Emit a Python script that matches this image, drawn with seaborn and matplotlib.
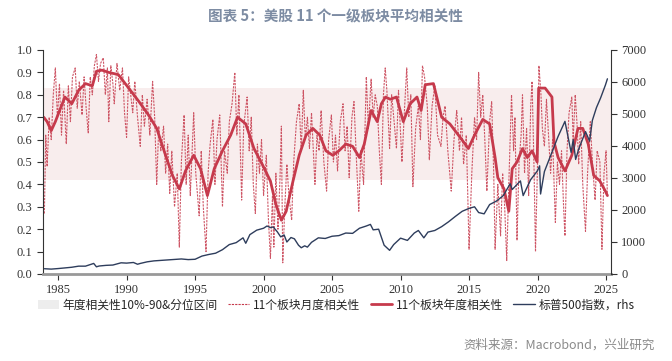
import numpy as np
import pandas as pd
import matplotlib
matplotlib.use("Agg")
import matplotlib.pyplot as plt
import seaborn as sns
from matplotlib.lines import Line2D
from matplotlib.patches import Patch

# 11-sector monthly average correlation (dashed)
monthly_years = [
    1984.0, 1984.1, 1984.2, 1984.35, 1984.5, 1984.65, 1984.8, 1984.95, 1985.1, 1985.25,
    1985.4, 1985.6, 1985.75, 1985.9, 1986.05, 1986.25, 1986.4, 1986.55, 1986.75, 1986.9,
    1987.05, 1987.2, 1987.35, 1987.5, 1987.65, 1987.8, 1987.95, 1988.1, 1988.3, 1988.45,
    1988.6, 1988.7, 1988.85, 1989.0, 1989.1, 1989.3, 1989.5, 1989.7, 1989.85, 1990.0,
    1990.15, 1990.3, 1990.45, 1990.6, 1990.8, 1991.0, 1991.15, 1991.3, 1991.5, 1991.7,
    1991.9, 1992.05, 1992.2, 1992.35, 1992.5, 1992.7, 1992.85, 1993.0, 1993.15, 1993.3,
    1993.5, 1993.7, 1993.85, 1994.0, 1994.2, 1994.35, 1994.5, 1994.65, 1994.9, 1995.05,
    1995.3, 1995.45, 1995.6, 1995.8, 1995.95, 1996.1, 1996.3, 1996.45, 1996.6, 1996.8,
    1997.0, 1997.15, 1997.35, 1997.5, 1997.7, 1997.9, 1998.05, 1998.2, 1998.4, 1998.55,
    1998.8, 1998.95, 1999.1, 1999.25, 1999.4, 1999.55, 1999.7, 1999.85, 2000.0, 2000.2,
    2000.35, 2000.5, 2000.65, 2000.75, 2000.9, 2001.05, 2001.2, 2001.3, 2001.4, 2001.55,
    2001.7, 2001.85, 2002.05, 2002.2, 2002.4, 2002.6, 2002.75, 2002.9, 2003.05, 2003.2,
    2003.35, 2003.5, 2003.75, 2003.9, 2004.05, 2004.2, 2004.4, 2004.6, 2004.75, 2004.95,
    2005.1, 2005.25, 2005.4, 2005.6, 2005.8, 2005.95, 2006.1, 2006.25, 2006.45, 2006.6,
    2006.75, 2006.95, 2007.1, 2007.3, 2007.5, 2007.65, 2007.85, 2008.0, 2008.15, 2008.3,
    2008.45, 2008.6, 2008.75, 2008.88, 2009.0, 2009.2, 2009.35, 2009.5, 2009.7, 2009.85,
    2010.1, 2010.3, 2010.45, 2010.6, 2010.75, 2010.9, 2011.1, 2011.3, 2011.45, 2011.6,
    2011.75, 2011.95, 2012.1, 2012.3, 2012.5, 2012.7, 2012.95, 2013.1, 2013.25, 2013.45,
    2013.7, 2013.9, 2014.1, 2014.3, 2014.45, 2014.6, 2014.8, 2015.0, 2015.2, 2015.4,
    2015.55, 2015.7, 2015.85, 2016.0, 2016.15, 2016.3, 2016.5, 2016.65, 2016.8, 2016.9,
    2017.1, 2017.3, 2017.45, 2017.6, 2017.75, 2017.9, 2018.1, 2018.25, 2018.35, 2018.5,
    2018.65, 2018.8, 2018.9, 2019.05, 2019.2, 2019.35, 2019.5, 2019.6, 2019.75, 2019.85,
    2020.0, 2020.1, 2020.25, 2020.35, 2020.5, 2020.65, 2020.8, 2020.95, 2021.1, 2021.3,
    2021.45, 2021.6, 2021.75, 2021.9, 2022.0, 2022.15, 2022.3, 2022.5, 2022.6, 2022.75,
    2022.9, 2023.0, 2023.15, 2023.3, 2023.5, 2023.65, 2023.85, 2024.0, 2024.2, 2024.35,
    2024.55, 2024.7, 2024.85, 2025.0, 2025.1,
]
monthly_corr = [
    0.27, 0.62, 0.48, 0.70, 0.60, 0.80, 0.92, 0.70, 0.85, 0.62,
    0.82, 0.58, 0.84, 0.68, 0.88, 0.92, 0.74, 0.86, 0.71, 0.88,
    0.74, 0.63, 0.88, 0.80, 0.93, 0.98, 0.86, 0.94, 0.965, 0.80,
    0.92, 0.68, 0.93, 0.85, 0.76, 0.94, 0.82, 0.92, 0.72, 0.61,
    0.88, 0.80, 0.72, 0.86, 0.70, 0.57, 0.80, 0.66, 0.78, 0.62,
    0.86, 0.70, 0.40, 0.66, 0.55, 0.66, 0.45, 0.58, 0.36, 0.55,
    0.30, 0.45, 0.12, 0.50, 0.71, 0.40, 0.62, 0.35, 0.72, 0.45,
    0.26, 0.55, 0.30, 0.10, 0.45, 0.58, 0.69, 0.40, 0.60, 0.71,
    0.30, 0.55, 0.45, 0.68, 0.76, 0.90, 0.62, 0.80, 0.33, 0.66,
    0.79, 0.55, 0.70, 0.40, 0.27, 0.58, 0.45, 0.60, 0.35, 0.53,
    0.25, 0.07, 0.35, 0.12, 0.45, 0.20, 0.43, 0.66, 0.05, 0.30,
    0.49, 0.35, 0.24, 0.50, 0.68, 0.76, 0.55, 0.82, 0.60, 0.70,
    0.56, 0.72, 0.40, 0.62, 0.55, 0.73, 0.50, 0.37, 0.60, 0.71,
    0.50, 0.62, 0.46, 0.68, 0.76, 0.55, 0.66, 0.43, 0.70, 0.77,
    0.55, 0.28, 0.55, 0.40, 0.88, 0.65, 0.87, 0.70, 0.80, 0.75,
    0.55, 0.40, 0.80, 0.92, 0.82, 0.56, 0.80, 0.70, 0.56, 0.82,
    0.50, 0.75, 0.92, 0.70, 0.80, 0.39, 0.65, 0.75, 0.60, 0.93,
    0.88, 0.75, 0.51, 0.75, 0.84, 0.62, 0.57, 0.70, 0.75, 0.55,
    0.37, 0.60, 0.73, 0.55, 0.70, 0.49, 0.62, 0.11, 0.45, 0.70,
    0.60, 0.90, 0.70, 0.80, 0.60, 0.37, 0.68, 0.77, 0.45, 0.11,
    0.40, 0.17, 0.45, 0.30, 0.06, 0.40, 0.80, 0.55, 0.70, 0.15,
    0.50, 0.62, 0.80, 0.45, 0.65, 0.35, 0.75, 0.86, 0.45, 0.10,
    0.50, 0.93, 0.80, 0.65, 0.57, 0.78, 0.62, 0.45, 0.60, 0.23,
    0.50, 0.40, 0.55, 0.30, 0.17, 0.55, 0.72, 0.79, 0.60, 0.80,
    0.65, 0.49, 0.68, 0.40, 0.19, 0.45, 0.68, 0.50, 0.33, 0.55,
    0.50, 0.11, 0.45, 0.55, 0.35,
]

# 11-sector annual (rolling) correlation, thick line
annual_years = [
    1983.95, 1984.2, 1984.5, 1984.8, 1985.05, 1985.5, 1986.0, 1986.5, 1987.0, 1987.5,
    1987.8, 1988.2, 1988.7, 1989.4, 1990.15, 1990.9, 1991.6, 1992.2, 1992.9, 1993.35,
    1993.85, 1994.3, 1994.9, 1995.4, 1995.9, 1996.4, 1997.0, 1997.6, 1998.1, 1998.7,
    1999.3, 1999.9, 2000.5, 2000.9, 2001.3, 2001.65, 2002.15, 2002.6, 2003.1, 2003.6,
    2004.1, 2004.55, 2005.05, 2005.5, 2006.0, 2006.5, 2007.0, 2007.35, 2007.85, 2008.3,
    2008.6, 2008.9, 2009.25, 2009.7, 2010.2, 2010.7, 2011.2, 2011.5, 2011.8, 2012.4,
    2012.6, 2013.0, 2013.6, 2014.35, 2014.95, 2015.4, 2016.0, 2016.5, 2016.9, 2017.1,
    2017.55, 2017.9, 2018.15, 2018.5, 2018.9, 2019.25, 2019.6, 2019.97, 2020.08, 2020.55,
    2021.05, 2021.2, 2021.5, 2022.0, 2022.5, 2022.95, 2023.3, 2023.7, 2024.1, 2024.55,
    2024.95, 2025.1,
]
annual_corr = [
    0.70, 0.68, 0.64, 0.68, 0.72, 0.79, 0.76, 0.82, 0.85, 0.84,
    0.905, 0.91, 0.90, 0.89, 0.83, 0.77, 0.71, 0.65, 0.52, 0.44,
    0.38, 0.46, 0.53, 0.47, 0.35, 0.47, 0.55, 0.62, 0.70, 0.67,
    0.56, 0.49, 0.415, 0.31, 0.24, 0.28, 0.415, 0.53, 0.62, 0.65,
    0.62, 0.55, 0.53, 0.55, 0.58, 0.57, 0.52, 0.58, 0.73, 0.68,
    0.76, 0.79, 0.78, 0.79, 0.68, 0.76, 0.79, 0.73, 0.845, 0.85,
    0.80, 0.70, 0.67, 0.61, 0.56, 0.62, 0.69, 0.67, 0.52, 0.43,
    0.38, 0.28, 0.47, 0.50, 0.56, 0.52, 0.55, 0.50, 0.83, 0.83,
    0.79, 0.59, 0.52, 0.46, 0.53, 0.65, 0.65, 0.58, 0.44, 0.415,
    0.37, 0.35,
]

# S&P 500 index (rhs)
spx_years = [
    1984.0, 1984.5, 1985.0, 1985.5, 1986.0, 1986.5, 1987.0, 1987.6, 1987.8, 1988.0,
    1988.5, 1989.0, 1989.6, 1990.0, 1990.5, 1990.8, 1991.0, 1991.5, 1992.0, 1993.0,
    1994.0, 1994.5, 1995.0, 1995.5, 1996.0, 1996.5, 1997.0, 1997.5, 1998.0, 1998.5,
    1998.7, 1999.0, 1999.5, 2000.0, 2000.25, 2000.5, 2000.7, 2001.0, 2001.25, 2001.5,
    2001.7, 2002.0, 2002.25, 2002.55, 2002.75, 2003.0, 2003.2, 2003.5, 2004.0, 2004.5,
    2005.0, 2005.5, 2006.0, 2006.5, 2007.0, 2007.5, 2007.8, 2008.0, 2008.4, 2008.8,
    2009.2, 2009.5, 2010.0, 2010.5, 2011.0, 2011.3, 2011.7, 2012.0, 2012.5, 2013.0,
    2013.5, 2014.0, 2014.5, 2015.0, 2015.4, 2015.7, 2016.1, 2016.5, 2017.0, 2017.5,
    2018.0, 2018.15, 2018.75, 2018.95, 2019.5, 2020.0, 2020.15, 2020.22, 2020.5, 2021.0,
    2021.5, 2022.0, 2022.45, 2022.6, 2022.78, 2023.0, 2023.5, 2023.8, 2024.0, 2024.3,
    2024.6, 2024.95, 2025.1,
]
spx_index = [
    165, 153, 170, 190, 211, 245, 245, 330, 225, 250,
    270, 280, 350, 340, 360, 305, 330, 380, 410, 440,
    470, 450, 460, 560, 610, 650, 760, 920, 980, 1130,
    960, 1230, 1370, 1430, 1500, 1450, 1470, 1320, 1160, 1220,
    1000, 1140, 1100, 900, 820, 880, 840, 990, 1130, 1110,
    1180, 1200, 1280, 1270, 1430, 1500, 1550, 1380, 1400, 900,
    740, 920, 1120, 1050, 1280, 1360, 1130, 1310, 1360, 1480,
    1630, 1800, 1960, 2050, 2100, 1920, 1880, 2170, 2280, 2450,
    2820, 2640, 2910, 2450, 2950, 3230, 3380, 2500, 3200, 3750,
    4300, 4770, 3800, 4200, 3580, 3900, 4450, 4150, 4800, 5200,
    5500, 5900, 6100,
]

band_low, band_high = 0.42, 0.83
x_ticks = [1985, 1990, 1995, 2000, 2005, 2010, 2015, 2020, 2025]

red = "#C63A4C"
navy = "#2E3D5C"
band_color = "#F8EDED"
dash = (0, (2.0, 1.0))

sns.set_style("ticks")
plt.rcParams["font.family"] = ["Liberation Serif", "Noto Sans CJK SC"]
plt.rcParams["axes.linewidth"] = 0.8

fig = plt.figure(figsize=(6.72, 3.61), dpi=100)
ax = fig.add_axes([0.064, 0.241, 0.845, 0.6205])

ax.axhspan(band_low, band_high, color=band_color, lw=0, zorder=0)

monthly = pd.DataFrame({"year": monthly_years, "corr": monthly_corr})
annual = pd.DataFrame({"year": annual_years, "corr": annual_corr})
spx = pd.DataFrame({"year": spx_years, "index": spx_index})

sns.lineplot(data=monthly, x="year", y="corr", ax=ax, color=red, lw=0.8,
             linestyle=dash, alpha=0.85)
sns.lineplot(data=annual, x="year", y="corr", ax=ax, color=red, lw=2.0)

ax2 = ax.twinx()
sns.lineplot(data=spx, x="year", y="index", ax=ax2, color=navy, lw=1.0)

ax.set_xlim(1983.9, 2025.35)
ax.set_ylim(0, 1.0)
ax2.set_ylim(0, 7000)
ax.set_yticks(np.arange(0, 1.01, 0.1))
ax.set_yticklabels([f"{v:.1f}" for v in np.arange(0, 1.01, 0.1)])
ax2.set_yticks(np.arange(0, 7001, 1000))
ax.set_xticks(x_ticks)
ax.set_xlabel("")
ax.set_ylabel("")
ax2.set_ylabel("")

for a in (ax, ax2):
    a.tick_params(labelsize=9, length=4, width=0.8, colors="#333333")
    a.spines["top"].set_visible(False)
    for lab in a.get_xticklabels() + a.get_yticklabels():
        lab.set_fontfamily("Liberation Serif")
ax.spines["right"].set_visible(False)
ax2.spines["left"].set_visible(False)
ax2.spines["bottom"].set_visible(False)
ax.spines["bottom"].set_color("#999999")
ax.spines["bottom"].set_linewidth(2)
ax2.spines["right"].set_color("#333333")
ax.spines["left"].set_color("#333333")

fig.text(0.5, 0.955, "图表 5：美股 11 个一级板块平均相关性", ha="center", va="center",
         fontsize=10.5, fontweight="bold", color="#7D8CA3", family=["Noto Sans CJK SC"])

handles = [
    Patch(facecolor="#EDEDED", edgecolor="none"),
    Line2D([], [], color=red, lw=0.8, linestyle=dash),
    Line2D([], [], color=red, lw=2.0),
    Line2D([], [], color=navy, lw=1.0),
]
labels = ["年度相关性10%-90&分位区间", "11个板块月度相关性", "11个板块年度相关性", "标普500指数，rhs"]
fig.legend(handles, labels, loc="center", bbox_to_anchor=(0.5, 0.155), ncol=4,
           frameon=False, handlelength=1.8, handletextpad=0.3, columnspacing=0.9,
           prop={"family": ["Noto Sans CJK SC"], "size": 8.5})

fig.text(0.975, 0.025, "资料来源：Macrobond，兴业研究", ha="right", va="bottom",
         fontsize=9, color="#8A8A8A", family=["Noto Sans CJK SC"])

fig.savefig("out.png", dpi=100)
